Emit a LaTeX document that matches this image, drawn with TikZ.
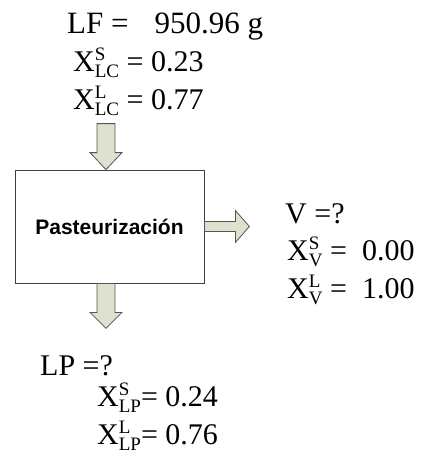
\documentclass[tikz,border=0pt]{standalone}
\usepackage{fontspec}
\setmainfont{Liberation Serif}
\newfontfamily\boxfont{Liberation Sans}
\usetikzlibrary{positioning}
\definecolor{arrowfill}{RGB}{221,225,205}
\definecolor{arrowline}{RGB}{85,85,85}
\newcommand{\idx}[1]{{\fontsize{19}{20}\selectfont #1}}
\newcommand{\massfrac}[3]{X\rlap{\raisebox{11pt}{\idx{#1}}}\raisebox{-6.5pt}{\idx{#2}}#3}
\tikzset{
  flow/.style={draw=arrowline,fill=arrowfill,line width=0.8pt,line join=miter},
  stream/.style={anchor=base west,inner sep=0pt,font=\fontsize{30}{34}\selectfont},
  unit/.style={draw=black!75,line width=0.8pt,minimum width=189pt,minimum height=113pt,
    inner sep=0pt,font=\boxfont\bfseries\fontsize{21}{24}\selectfont}
}
\begin{document}
\begin{tikzpicture}[x=1pt,y=-1pt]
\useasboundingbox (0,0) rectangle (425,464);
\node[unit] (past) at (109.5,226.5) {Pasteurización};
% feed
\node[stream,font=\fontsize{31}{34}\selectfont] (lf) at (67,33) {LF =\hspace{26pt}950.96 g};
\node[stream] (lfs) at (73,71) {\massfrac{S}{LC}{ = 0.23}};
\node[stream] (lfl) at (73,109) {\massfrac{L}{LC}{ = 0.77}};
\draw[flow] (past.north) ++(-3.5,0) -- ++(-16,-17) -- ++(7,0) -- ++(0,-29)
  -- ++(18,0) -- ++(0,29) -- ++(7,0) -- cycle;
% vapour
\draw[flow] (past.east) ++(0,-5) -- ++(31,0) -- ++(0,-11) -- ++(14,16)
  -- ++(-14,16) -- ++(0,-11) -- ++(-31,0) -- cycle;
\node[stream] (v) at (285,223) {V =?};
\node[stream] (vs) at (287,260) {\massfrac{S}{V}{ = \ 0.00}};
\node[stream] (vl) at (287,298) {\massfrac{L}{V}{ = \ 1.00}};
% product
\draw[flow] (past.south) ++(-12.5,0) -- ++(0,29) -- ++(-7,0) -- ++(16,16)
  -- ++(16,-16) -- ++(-7,0) -- ++(0,-29) -- cycle;
\node[stream] (lp) at (40,375) {LP =?};
\node[stream] (lps) at (97,406) {\massfrac{S}{LP}{= 0.24}};
\node[stream] (lpl) at (97,444) {\massfrac{L}{LP}{= 0.76}};
\end{tikzpicture}
\end{document}
